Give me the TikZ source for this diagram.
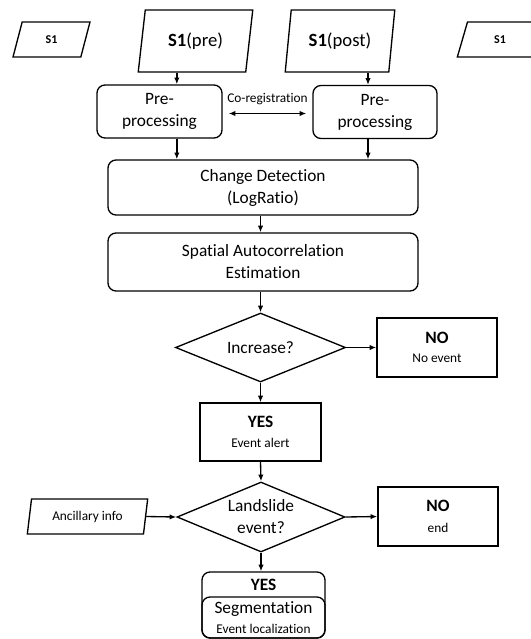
\documentclass[tikz,border=0pt]{standalone}
\usepackage{fontspec}
\setmainfont[Ligatures=CommonOff]{Carlito}
\usetikzlibrary{shapes.geometric,arrows.meta,positioning}

\newcommand{\smalltxt}[1]{{\fontsize{10}{12}\selectfont #1}}

\begin{document}
\begin{tikzpicture}
    [x=0.75pt, y=-0.75pt,
    line width=1pt,
    every node/.style={font=\fontsize{13}{16.5}\selectfont, inner sep=0pt, align=center},
    proc/.style={draw, rounded corners=6pt, minimum width=232.5pt, minimum height=42pt},
    io/.style={draw, trapezium, trapezium left angle=77, trapezium right angle=103,
        trapezium stretches=true, minimum width=86.25pt, minimum height=46.5pt},
    iosmall/.style={io, minimum width=57.75pt, minimum height=26.25pt},
    decision/.style={draw, diamond, aspect=2.4},
    result/.style={draw, minimum width=90pt, minimum height=44.25pt},
    arr/.style={-{Latex[length=5pt,width=4pt]}}
    ]
    \useasboundingbox (0,0) rectangle (531,639);

    % inputs
    \node (s1left) [iosmall, font=\fontsize{9}{11}\selectfont] at (51.5,39.5) {\textbf{S1}};
    \node (s1pre) [io, font=\fontsize{14}{17}\selectfont] at (195.5,41) {\textbf{S1}(pre)};
    \node (s1post) [io, minimum width=82.5pt, font=\fontsize{14}{17}\selectfont] at (340,41) {\textbf{S1}(post)};
    \node (s1right) [iosmall, minimum width=64pt, font=\fontsize{9}{11}\selectfont] at (500,39.5) {\textbf{S1}};

    % pre-processing
    \node (preleft) [proc, minimum width=93.75pt, minimum height=39.75pt] at (159.5,111.5) {Pre-\\processing};
    \node (preright) [proc, minimum width=93pt, minimum height=39.75pt] at (375,112) {Pre-\\processing};

    % main column
    \node (change) [proc, minimum height=41.25pt] at (263,187.5) {Change Detection\\(LogRatio)};
    \node (spatial) [proc, minimum height=43.5pt] at (263,262) {Spatial Autocorrelation\\Estimation};
    \node (increase) [decision, minimum width=127.5pt, minimum height=51.75pt] at (260.5,347.5) {Increase?};
    \node (noevent) [result] at (437,347.5) {\textbf{NO}\\[-2pt]\smalltxt{No event}};
    \node (alert) [result, minimum width=90.75pt, minimum height=43.5pt] at (260.5,432) {\textbf{YES}\\[-1pt]\smalltxt{Event alert}};
    \node (landslide) [decision, minimum width=126pt, minimum height=52.5pt] at (261,517) {Landslide\\event?};
    \node (ancillary) [iosmall, minimum width=90.75pt, font=\fontsize{10}{12}\selectfont] at (87.5,516.5) {Ancillary info};
    \node (noend) [result] at (438,516.5) {\textbf{NO}\\[-1pt]\smalltxt{end}};

    % final block
    \node (yesfinal) [proc, minimum width=92.25pt, minimum height=49.5pt] at (263.5,605) {};
    \node (yestitle) [below=5.5pt of yesfinal.north] {\textbf{YES}};
    \node (segment) [proc, anchor=south, minimum width=92.25pt, minimum height=30.75pt] at (yesfinal.south)
        {Segmentation\\[-1pt]\smalltxt{Event localization}};

    % connectors
    \path ([xshift=13pt]preleft.north) coordinate (colleft);
    \path ([xshift=-5.25pt]preright.north) coordinate (colright);
    \draw[arr] (s1pre.south -| colleft) -- (colleft);
    \draw[arr] (s1post.south -| colright) -- (colright);
    \draw[arr] (preleft.south -| colleft) -- (change.north -| colleft);
    \draw[arr] (preright.south -| colright) -- (change.north -| colright);
    \draw[{Latex[length=5pt,width=4pt]}-{Latex[length=5pt,width=4pt]}, shorten <=4.5pt, shorten >=4.5pt]
        ([yshift=-1.5pt]preleft.east) -- ([yshift=-1.5pt]preleft.east -| preright.west)
        node[midway, above=6pt, font=\fontsize{10}{12}\selectfont] {Co-registration};
    \draw[arr] (change.south -| increase) -- (spatial.north -| increase);
    \draw[arr] (spatial.south -| increase) -- (increase.north);
    \draw[arr] (increase.east) -- (noevent.west);
    \draw[arr] (increase.south) -- (alert.north);
    \draw[arr] (alert.south) -- (landslide.north);
    \draw[arr] (ancillary.east) -- (landslide.west);
    \draw[arr] (landslide.east) -- (noend.west);
    \draw[arr] (landslide.south) -- (landslide.south |- yesfinal.north);
\end{tikzpicture}
\end{document}
